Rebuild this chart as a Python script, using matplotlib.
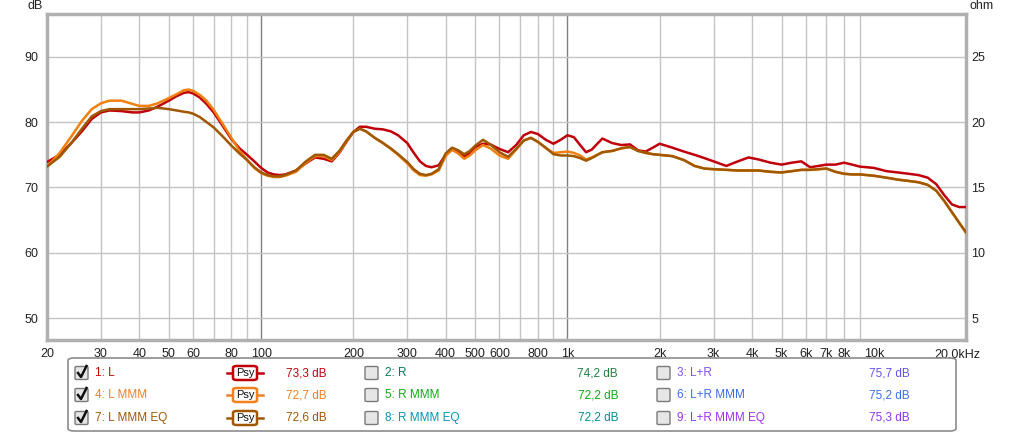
import numpy as np
import matplotlib
matplotlib.use("Agg")
import matplotlib.pyplot as plt
from matplotlib.patches import FancyBboxPatch
from matplotlib.lines import Line2D
import matplotlib.transforms as mtransforms

plt.rcParams['font.family'] = ['Liberation Sans', 'DejaVu Sans']

# ---------------- data ----------------
freqs = [20, 22, 24, 26, 28, 30, 32, 35, 38, 40, 43, 46, 50, 53, 56, 58, 60, 63, 66, 70,
         75, 80, 85, 90, 95, 100, 105, 110, 115, 120, 130, 140, 150, 160, 170, 180, 190,
         200, 210, 220, 235, 250, 265, 280, 300, 315, 330, 345, 360, 380, 400, 420, 440,
         460, 480, 500, 530, 560, 600, 640, 680, 720, 760, 800, 850, 900, 950, 1000, 1050,
         1100, 1150, 1200, 1300, 1400, 1500, 1600, 1700, 1800, 1900, 2000, 2200, 2400,
         2600, 2800, 3000, 3300, 3600, 3900, 4200, 4600, 5000, 5400, 5800, 6200, 6600,
         7000, 7500, 8000, 8500, 9000, 10000, 11000, 12000, 13000, 14000, 15000, 16000,
         17000, 18000, 19000, 20000]

spl_L = [73.9, 75.0, 76.8, 78.6, 80.5, 81.5, 81.8, 81.7, 81.5, 81.5, 81.8, 82.4, 83.3, 84.0,
         84.5, 84.6, 84.4, 83.8, 82.9, 81.5, 79.4, 77.4, 76.0, 75.0, 74.0, 73.0, 72.3, 72.0,
         71.9, 72.0, 72.6, 73.7, 74.6, 74.4, 74.0, 75.3, 77.0, 78.5, 79.3, 79.3, 79.0, 78.9,
         78.6, 78.0, 76.8, 75.3, 74.0, 73.3, 73.1, 73.4, 75.0, 75.8, 75.4, 74.7, 75.3, 76.2,
         76.7, 76.6, 75.9, 75.4, 76.5, 78.0, 78.5, 78.2, 77.3, 76.7, 77.3, 78.0, 77.7, 76.5,
         75.4, 75.8, 77.5, 76.8, 76.5, 76.6, 75.7, 75.5, 76.1, 76.7, 76.1, 75.5, 75.0, 74.5,
         74.0, 73.3, 74.0, 74.6, 74.3, 73.8, 73.5, 73.8, 74.0, 73.1, 73.3, 73.5, 73.5, 73.8,
         73.5, 73.2, 73.0, 72.5, 72.3, 72.1, 71.9, 71.5, 70.5, 68.8, 67.4, 67.0, 67.0]

spl_L_MMM = [73.2, 75.3, 77.8, 80.2, 82.0, 82.9, 83.3, 83.3, 82.8, 82.5, 82.5, 82.9, 83.7,
             84.3, 84.9, 85.0, 84.8, 84.2, 83.4, 81.9, 79.7, 77.6, 75.6, 74.2, 73.0, 72.2,
             71.8, 71.6, 71.6, 71.8, 72.4, 73.8, 74.8, 74.8, 74.2, 75.4, 77.1, 78.5, 79.0,
             78.6, 77.6, 76.8, 75.9, 75.0, 73.7, 72.6, 71.9, 71.8, 72.0, 72.6, 74.8, 75.8,
             75.2, 74.4, 74.9, 75.7, 76.5, 76.0, 74.9, 74.4, 75.8, 77.2, 77.6, 77.0, 76.0,
             75.3, 75.4, 75.5, 75.3, 74.9, 74.3, 74.6, 75.4, 75.6, 76.0, 76.2, 75.6, 75.3,
             75.1, 75.0, 74.8, 74.2, 73.3, 72.9, 72.8, 72.7, 72.6, 72.6, 72.6, 72.4, 72.3,
             72.5, 72.7, 72.7, 72.8, 72.9, 72.4, 72.1, 72.0, 72.0, 71.8, 71.5, 71.2, 71.0,
             70.8, 70.4, 69.5, 67.9, 66.2, 64.6, 63.1]

spl_L_MMM_EQ = [73.2, 74.7, 76.8, 79.0, 80.9, 81.7, 82.0, 82.0, 82.0, 82.0, 82.1, 82.2, 82.0,
                81.8, 81.6, 81.5, 81.3, 80.8, 80.1, 79.2, 77.8, 76.4, 75.2, 74.2, 73.1, 72.3,
                71.9, 71.7, 71.7, 71.9, 72.6, 74.0, 75.0, 75.0, 74.4, 75.6, 77.2, 78.5, 79.0,
                78.6, 77.6, 76.8, 76.0, 75.1, 73.9, 72.8, 72.1, 71.9, 72.1, 72.8, 75.2, 76.1,
                75.7, 75.1, 75.6, 76.4, 77.3, 76.6, 75.4, 74.7, 75.9, 77.2, 77.6, 77.0, 76.1,
                75.1, 74.9, 74.9, 74.8, 74.5, 74.1, 74.5, 75.4, 75.6, 76.0, 76.2, 75.6, 75.3,
                75.1, 75.0, 74.8, 74.2, 73.3, 72.9, 72.8, 72.7, 72.6, 72.6, 72.6, 72.4, 72.3,
                72.5, 72.7, 72.7, 72.8, 72.9, 72.4, 72.1, 72.0, 72.0, 71.8, 71.5, 71.2, 71.0,
                70.8, 70.4, 69.5, 67.9, 66.2, 64.6, 63.1]

xtick_vals = [20, 30, 40, 50, 60, 80, 100, 200, 300, 400, 500, 600, 800, 1000, 2000, 3000,
              4000, 5000, 6000, 7000, 8000, 10000]
xtick_labels = ['20', '30', '40', '50', '60', '80', '100', '200', '300', '400', '500', '600',
                '800', '1k', '2k', '3k', '4k', '5k', '6k', '7k', '8k', '10k']
ytick_db = [50, 60, 70, 80, 90]
ytick_ohm = [5, 10, 15, 20, 25]

legend_rows = [
    [("1: L", "#c0000a", True, "73,3 dB", "#c0000a"),
     ("2: R", "#007a5a", False, "74,2 dB", "#1f7f3f"),
     ("3: L+R", "#8050f0", False, "75,7 dB", "#6050f0")],
    [("4: L MMM", "#f08020", True, "72,7 dB", "#f08020"),
     ("5: R MMM", "#10a810", False, "72,2 dB", "#10a810"),
     ("6: L+R MMM", "#3a6ee8", False, "75,2 dB", "#3a6ee8")],
    [("7: L MMM EQ", "#a05800", True, "72,6 dB", "#a05800"),
     ("8: R MMM EQ", "#0096b4", False, "72,2 dB", "#008c96"),
     ("9: L+R MMM EQ", "#a030f0", False, "75,3 dB", "#9030f0")],
]

# ---------------- figure ----------------
W, H = 1024, 433
fig = plt.figure(figsize=(W / 100, H / 100), dpi=100)
fig.patch.set_facecolor('white')

def fx(px):
    return px / W

def fy(py):
    return 1 - py / H

left, right, top, bottom = 47, 966, 14, 340
ax = fig.add_axes([fx(left), fy(bottom), fx(right - left), (bottom - top) / H])
ax.set_xscale('log')
ax.set_xlim(20, 20000)
y0 = 50 - (bottom - 318) / 6.54
y1 = 90 + (57 - top) / 6.54
ax.set_ylim(y0, y1)

# grid
for e in (1, 2, 3):
    for m in range(1, 10):
        f = m * 10 ** e
        if 20 < f <= 10000:
            col = '#808080' if m == 1 else '#c4c4c4'
            ax.axvline(f, color=col, lw=1.0, zorder=1)
for v in ytick_db:
    ax.axhline(v, color='#c4c4c4', lw=1.0, zorder=1)

# curves
kw = dict(lw=1.8, solid_joinstyle='round', solid_capstyle='round')
ax.plot(freqs, spl_L, color='#c0000a', zorder=3, **kw)
ax.plot(freqs, spl_L_MMM, color='#f08010', zorder=4, **kw)
ax.plot(freqs, spl_L_MMM_EQ, color='#a05800', zorder=5, **kw)

# axes styling
for s in ax.spines.values():
    s.set_color('#b0b0b0')
    s.set_linewidth(2.5)
ax.set_xticks(xtick_vals)
ax.set_xticklabels(xtick_labels)
ax.xaxis.set_minor_locator(matplotlib.ticker.NullLocator())
ax.set_yticks(ytick_db)
ax.tick_params(axis='both', length=0, labelsize=9, colors='#222222')
ax.tick_params(axis='x', pad=6)
ax.tick_params(axis='y', pad=6)

# last x label, shifted right a bit, on the same baseline as the other tick labels
offset = mtransforms.ScaledTranslation(14 / 100, -6 / 72, fig.dpi_scale_trans)
ax.text(20000, 0, '20,0kHz', transform=ax.get_xaxis_transform() + offset, ha='right',
        va='top', fontsize=9, color='#222222')

axr = ax.twinx()
axr.set_ylim((y0 - 40) / 2, (y1 - 40) / 2)
axr.set_yticks(ytick_ohm)
axr.tick_params(axis='y', length=0, labelsize=9, colors='#222222', pad=4)
for s in axr.spines.values():
    s.set_visible(False)

fig.text(fx(35), fy(6), 'dB', ha='center', va='center', fontsize=9, color='#222222')
fig.text(fx(982), fy(6), 'ohm', ha='center', va='center', fontsize=9, color='#222222')

# ---------------- legend ----------------
box = FancyBboxPatch((fx(68), fy(431)), fx(956 - 68), (431 - 358) / H,
                     boxstyle='round,pad=0,rounding_size=0.006', transform=fig.transFigure,
                     facecolor='white', edgecolor='#8c8c8c', lw=1.2)
fig.patches.append(box)

row_y = [373, 395, 418]
col_cb = [75, 365, 657]
col_lab = [95, 385, 677]
col_val_right = [327, 618, 910]

def checkbox(x, y, checked):
    cb = FancyBboxPatch((fx(x), fy(y + 6.5)), fx(13), 13 / H,
                        boxstyle='round,pad=0,rounding_size=0.002', transform=fig.transFigure,
                        facecolor='#e6e6e6', edgecolor='#7a7a7a', lw=1.0)
    fig.patches.append(cb)
    if checked:
        xs = [x + 3, x + 6, x + 11.5]
        ys = [y + 0, y + 4, y - 7]
        fig.lines.append(Line2D([fx(v) for v in xs], [fy(v) for v in ys],
                                transform=fig.transFigure, color='#111111', lw=1.8))

for ri, row in enumerate(legend_rows):
    y = row_y[ri]
    for ci, (lab, lcol, checked, val, vcol) in enumerate(row):
        checkbox(col_cb[ci], y, checked)
        fig.text(fx(col_lab[ci]), fy(y), lab, ha='left', va='center', fontsize=8.5, color=lcol)
        fig.text(fx(col_val_right[ci]), fy(y), val, ha='right', va='center', fontsize=8.5,
                 color=vcol)
        if ci == 0:
            fig.lines.append(Line2D([fx(227), fx(263)], [fy(y), fy(y)],
                                    transform=fig.transFigure, color=lcol, lw=1.8))
            badge = FancyBboxPatch((fx(233), fy(y + 7)), fx(24), 14 / H,
                                   boxstyle='round,pad=0,rounding_size=0.004',
                                   transform=fig.transFigure, facecolor='white',
                                   edgecolor=lcol, lw=1.8, zorder=3)
            fig.patches.append(badge)
            fig.text(fx(245), fy(y), 'Psy', ha='center', va='center', fontsize=8,
                     color='#111111', zorder=4)

fig.savefig('out.png', dpi=100, facecolor='white')
